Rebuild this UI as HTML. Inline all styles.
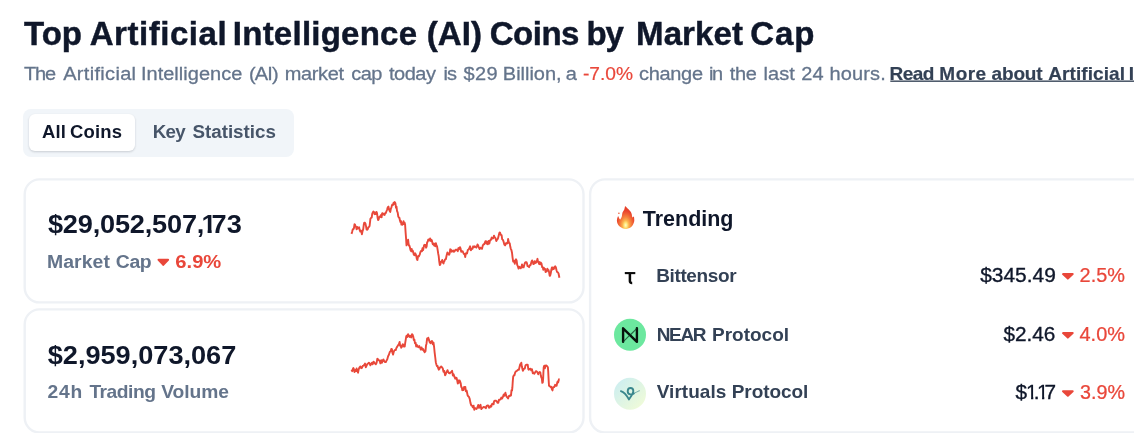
<!DOCTYPE html>
<html><head><meta charset="utf-8">
<style>
html,body{margin:0;padding:0;background:#fff;}
body{width:1134px;height:433px;position:relative;overflow:hidden;font-family:"Liberation Sans",sans-serif;color:#0f172a;}
.t{position:absolute;white-space:nowrap;line-height:1;}
.box{position:absolute;box-sizing:border-box;}
.card{position:absolute;border:2px solid #eff2f5;border-radius:12px;box-sizing:border-box;background:#fff;}
svg{position:absolute;left:0;top:0;}
</style></head><body>
<div id="root" style="position:absolute;left:0;top:0;width:1134px;height:433px;opacity:0.999;">
<div class="box" style="left:23px;top:109px;width:271px;height:48px;background:#f1f5f9;border-radius:8px;"></div>
<div class="box" style="left:29px;top:114px;width:106px;height:37px;background:#fff;border-radius:6px;box-shadow:0 1px 2px rgba(15,23,42,.10),0 1px 3px rgba(15,23,42,.08);"></div>
<div class="t" id="title_0" style="left:24.07px;top:16.7px;font-size:33.03px;font-weight:bold;color:#0f172a;transform:scaleY(1.003);transform-origin:0 28px;-webkit-text-stroke:0.45px #0f172a;letter-spacing:-0.149px;">Top</div>
<div class="t" id="title_1" style="left:89.74px;top:16.7px;font-size:33.03px;font-weight:bold;color:#0f172a;transform:scaleY(1.003);transform-origin:0 28px;-webkit-text-stroke:0.45px #0f172a;letter-spacing:0.528px;">Artificial</div>
<div class="t" id="title_2" style="left:232.82px;top:16.7px;font-size:33.03px;font-weight:bold;color:#0f172a;transform:scaleY(1.003);transform-origin:0 28px;-webkit-text-stroke:0.45px #0f172a;letter-spacing:0.239px;">Intelligence</div>
<div class="t" id="title_3" style="left:426.78px;top:16.7px;font-size:33.03px;font-weight:bold;color:#0f172a;transform:scaleY(1.003);transform-origin:0 28px;-webkit-text-stroke:0.45px #0f172a;letter-spacing:0.038px;">(AI)</div>
<div class="t" id="title_4" style="left:489.78px;top:16.7px;font-size:33.03px;font-weight:bold;color:#0f172a;transform:scaleY(1.003);transform-origin:0 28px;-webkit-text-stroke:0.45px #0f172a;letter-spacing:-0.509px;">Coins</div>
<div class="t" id="title_5" style="left:586.62px;top:16.7px;font-size:33.03px;font-weight:bold;color:#0f172a;transform:scaleY(1.003);transform-origin:0 28px;-webkit-text-stroke:0.45px #0f172a;letter-spacing:-1.291px;">by</div>
<div class="t" id="title_6" style="left:636.02px;top:16.7px;font-size:33.03px;font-weight:bold;color:#0f172a;transform:scaleY(1.003);transform-origin:0 28px;-webkit-text-stroke:0.45px #0f172a;letter-spacing:0.121px;">Market</div>
<div class="t" id="title_7" style="left:750.28px;top:16.7px;font-size:33.03px;font-weight:bold;color:#0f172a;transform:scaleY(1.003);transform-origin:0 28px;-webkit-text-stroke:0.45px #0f172a;letter-spacing:0.886px;">Cap</div>
<div class="t" id="sub_0" style="left:24.0px;top:62.8px;font-size:20.0px;font-weight:normal;color:#64748b;transform:scaleY(0.964);transform-origin:0 17px;-webkit-text-stroke:0.3px #64748b;letter-spacing:-1.220px;">The</div>
<div class="t" id="sub_1" style="left:63.2px;top:62.8px;font-size:20.0px;font-weight:normal;color:#64748b;transform:scaleY(0.964);transform-origin:0 17px;-webkit-text-stroke:0.3px #64748b;letter-spacing:0.315px;">Artificial</div>
<div class="t" id="sub_2" style="left:140.9px;top:62.8px;font-size:20.0px;font-weight:normal;color:#64748b;transform:scaleY(0.964);transform-origin:0 17px;-webkit-text-stroke:0.3px #64748b;letter-spacing:0.031px;">Intelligence</div>
<div class="t" id="sub_3" style="left:248.9px;top:62.8px;font-size:20.0px;font-weight:normal;color:#64748b;transform:scaleY(0.964);transform-origin:0 17px;-webkit-text-stroke:0.3px #64748b;letter-spacing:-0.819px;">(AI)</div>
<div class="t" id="sub_4" style="left:284.8px;top:62.8px;font-size:20.0px;font-weight:normal;color:#64748b;transform:scaleY(0.964);transform-origin:0 17px;-webkit-text-stroke:0.3px #64748b;letter-spacing:-0.373px;">market</div>
<div class="t" id="sub_5" style="left:351.2px;top:62.8px;font-size:20.0px;font-weight:normal;color:#64748b;transform:scaleY(0.964);transform-origin:0 17px;-webkit-text-stroke:0.3px #64748b;letter-spacing:-0.562px;">cap</div>
<div class="t" id="sub_6" style="left:389.1px;top:62.8px;font-size:20.0px;font-weight:normal;color:#64748b;transform:scaleY(0.964);transform-origin:0 17px;-webkit-text-stroke:0.3px #64748b;letter-spacing:-0.531px;">today</div>
<div class="t" id="sub_7" style="left:443.4px;top:62.8px;font-size:20.0px;font-weight:normal;color:#64748b;transform:scaleY(0.964);transform-origin:0 17px;-webkit-text-stroke:0.3px #64748b;letter-spacing:-0.843px;">is</div>
<div class="t" id="sub_8" style="left:463.6px;top:62.8px;font-size:20.0px;font-weight:normal;color:#64748b;transform:scaleY(0.964);transform-origin:0 17px;-webkit-text-stroke:0.3px #64748b;letter-spacing:0.327px;">$29</div>
<div class="t" id="sub_9" style="left:502.8px;top:62.8px;font-size:20.0px;font-weight:normal;color:#64748b;transform:scaleY(0.964);transform-origin:0 17px;-webkit-text-stroke:0.3px #64748b;letter-spacing:-0.008px;">Billion,</div>
<div class="t" id="sub_10" style="left:565.85px;top:62.8px;font-size:20.0px;font-weight:normal;color:#64748b;transform:scaleY(0.964);transform-origin:0 17px;-webkit-text-stroke:0.3px #64748b;letter-spacing:0.000px;">a</div>
<div class="t" id="sub_11" style="left:639.1px;top:62.8px;font-size:20.0px;font-weight:normal;color:#64748b;transform:scaleY(0.964);transform-origin:0 17px;-webkit-text-stroke:0.3px #64748b;letter-spacing:-0.338px;">change</div>
<div class="t" id="sub_12" style="left:709.0px;top:62.8px;font-size:20.0px;font-weight:normal;color:#64748b;transform:scaleY(0.964);transform-origin:0 17px;-webkit-text-stroke:0.3px #64748b;letter-spacing:-1.343px;">in</div>
<div class="t" id="sub_13" style="left:729.8px;top:62.8px;font-size:20.0px;font-weight:normal;color:#64748b;transform:scaleY(0.964);transform-origin:0 17px;-webkit-text-stroke:0.3px #64748b;letter-spacing:-0.340px;">the</div>
<div class="t" id="sub_14" style="left:763.5px;top:62.8px;font-size:20.0px;font-weight:normal;color:#64748b;transform:scaleY(0.964);transform-origin:0 17px;-webkit-text-stroke:0.3px #64748b;letter-spacing:0.045px;">last</div>
<div class="t" id="sub_15" style="left:801.2px;top:62.8px;font-size:20.0px;font-weight:normal;color:#64748b;transform:scaleY(0.964);transform-origin:0 17px;-webkit-text-stroke:0.3px #64748b;letter-spacing:0.277px;">24</div>
<div class="t" id="sub_16" style="left:829.4px;top:62.8px;font-size:20.0px;font-weight:normal;color:#64748b;transform:scaleY(0.964);transform-origin:0 17px;-webkit-text-stroke:0.3px #64748b;letter-spacing:0.174px;">hours.</div>
<div class="t" id="sub2" style="left:582.93px;top:63.8px;font-size:19.19px;font-weight:normal;color:#e9473a;transform:scaleY(0.99);transform-origin:0 16px;-webkit-text-stroke:0.2px #e9473a;">-7.0%</div>
<div class="t" id="link_0" style="left:889.46px;top:63.7px;font-size:19.01px;font-weight:bold;color:#334155;transform:scaleY(1.006);transform-origin:0 16px;-webkit-text-stroke:0.2px #334155;letter-spacing:-0.496px;">Read</div>
<div class="t" id="link_1" style="left:939.36px;top:63.7px;font-size:19.01px;font-weight:bold;color:#334155;transform:scaleY(1.006);transform-origin:0 16px;-webkit-text-stroke:0.2px #334155;letter-spacing:0.473px;">More</div>
<div class="t" id="link_2" style="left:991.62px;top:63.7px;font-size:19.01px;font-weight:bold;color:#334155;transform:scaleY(1.006);transform-origin:0 16px;-webkit-text-stroke:0.2px #334155;letter-spacing:-0.200px;">about</div>
<div class="t" id="link_3" style="left:1048.22px;top:63.7px;font-size:19.01px;font-weight:bold;color:#334155;transform:scaleY(1.006);transform-origin:0 16px;-webkit-text-stroke:0.2px #334155;letter-spacing:0.079px;">Artificial</div>
<div class="t" id="link_t" style="left:1128.86px;top:63.7px;font-size:19.01px;font-weight:bold;color:#334155;transform:scaleY(1.006);transform-origin:0 16px;-webkit-text-stroke:0.2px #334155;">Intelligence (AI)</div>
<div class="t" id="t1_0" style="left:41.93px;top:122.8px;font-size:18.47px;font-weight:bold;color:#0f172a;transform:scaleY(1.036);transform-origin:0 15px;letter-spacing:0.160px;">All</div>
<div class="t" id="t1_1" style="left:70.06px;top:122.8px;font-size:18.47px;font-weight:bold;color:#0f172a;transform:scaleY(1.036);transform-origin:0 15px;letter-spacing:0.150px;">Coins</div>
<div class="t" id="t2_0" style="left:152.67px;top:122.8px;font-size:18.79px;font-weight:bold;color:#475569;transform:scaleY(1.019);transform-origin:0 15px;letter-spacing:-0.657px;">Key</div>
<div class="t" id="t2_1" style="left:192.52px;top:122.8px;font-size:18.79px;font-weight:bold;color:#475569;transform:scaleY(1.019);transform-origin:0 15px;letter-spacing:-0.021px;">Statistics</div>
<div class="t" id="b1_0" style="left:47.93px;top:209.9px;font-size:27.14px;font-weight:bold;color:#0f172a;transform:scaleY(0.916);transform-origin:0 23px;letter-spacing:-0.175px;">$29,052,507,</div>
<div class="t" id="b1_1" style="left:201.5px;top:209.9px;font-size:27.14px;font-weight:bold;color:#0f172a;transform:scaleY(0.916);transform-origin:0 23px;letter-spacing:0.000px;"><span style="display:inline-block;clip-path:polygon(0 0,10.18px 0,10.18px 100%,6.11px 100%,6.11px 19.61px,0 19.61px)">1</span></div>
<div class="t" id="b1_2" style="left:211.41px;top:209.9px;font-size:27.14px;font-weight:bold;color:#0f172a;transform:scaleY(0.916);transform-origin:0 23px;letter-spacing:0.379px;">73</div>
<div class="t" id="l1_0" style="left:47.04px;top:251.8px;font-size:19.41px;font-weight:bold;color:#64748b;transform:scaleY(0.979);transform-origin:0 16px;letter-spacing:0.050px;">Market</div>
<div class="t" id="l1_1" style="left:115.82px;top:251.8px;font-size:19.41px;font-weight:bold;color:#64748b;transform:scaleY(0.979);transform-origin:0 16px;letter-spacing:-0.400px;">Cap</div>
<div class="t" id="r1" style="left:175.29px;top:250.8px;font-size:20.22px;font-weight:bold;color:#e9473a;transform:scaleY(0.953);transform-origin:0 17px;">6.9%</div>
<div class="t" id="b2" style="left:47.73px;top:341.0px;font-size:27.14px;font-weight:bold;color:#0f172a;transform:scaleY(0.916);transform-origin:0 23px;">$2,959,073,067</div>
<div class="t" id="l2_0" style="left:47.42px;top:381.6px;font-size:19.26px;font-weight:bold;color:#64748b;transform:scaleY(0.987);transform-origin:0 16px;letter-spacing:0.831px;">24h</div>
<div class="t" id="l2_1" style="left:89.41px;top:381.6px;font-size:19.26px;font-weight:bold;color:#64748b;transform:scaleY(0.987);transform-origin:0 16px;letter-spacing:-0.498px;">Trading</div>
<div class="t" id="l2_2" style="left:161.3px;top:381.6px;font-size:19.26px;font-weight:bold;color:#64748b;transform:scaleY(0.987);transform-origin:0 16px;letter-spacing:-0.086px;">Volume</div>
<div class="t" id="trend" style="left:642.79px;top:208.5px;font-size:21.49px;font-weight:bold;color:#0f172a;transform:scaleY(1.004);transform-origin:0 17px;">Trending</div>
<div class="t" id="n1_0" style="left:656.16px;top:265.6px;font-size:19.0px;font-weight:bold;color:#334155;transform:scaleY(0.999);transform-origin:0 16px;letter-spacing:-0.360px;">Bittensor</div>
<div class="t" id="n2_0" style="left:656.66px;top:324.5px;font-size:19.0px;font-weight:bold;color:#334155;transform:scaleY(0.985);transform-origin:0 16px;letter-spacing:-1.322px;">NEAR</div>
<div class="t" id="n2_1" style="left:711.96px;top:324.5px;font-size:19.0px;font-weight:bold;color:#334155;transform:scaleY(0.985);transform-origin:0 16px;letter-spacing:0.010px;">Protocol</div>
<div class="t" id="n3_0" style="left:656.7px;top:382.4px;font-size:19.0px;font-weight:bold;color:#334155;transform:scaleY(0.999);transform-origin:0 16px;letter-spacing:0.048px;">Virtuals</div>
<div class="t" id="n3_1" style="left:731.66px;top:382.4px;font-size:19.0px;font-weight:bold;color:#334155;transform:scaleY(0.999);transform-origin:0 16px;letter-spacing:-0.047px;">Protocol</div>
<div class="t" id="pr1" style="left:980.19px;top:264.8px;font-size:20.94px;font-weight:normal;color:#0f172a;transform:scaleY(0.927);transform-origin:0 17px;-webkit-text-stroke:0.35px #0f172a;">$345.49</div>
<div class="t" id="pr2" style="left:1003.39px;top:323.7px;font-size:20.76px;font-weight:normal;color:#0f172a;transform:scaleY(0.935);transform-origin:0 17px;-webkit-text-stroke:0.35px #0f172a;">$2.46</div>
<div class="t" id="pr3_0" style="left:1015.38px;top:381.6px;font-size:20.8px;font-weight:normal;color:#0f172a;transform:scaleY(0.934);transform-origin:0 17px;-webkit-text-stroke:0.35px #0f172a;letter-spacing:0.000px;">$</div>
<div class="t" id="pr3_1" style="left:1026.08px;top:381.6px;font-size:20.8px;font-weight:normal;color:#0f172a;transform:scaleY(0.934);transform-origin:0 17px;-webkit-text-stroke:0.35px #0f172a;letter-spacing:0.000px;"><span style="display:inline-block;clip-path:polygon(0 0,7.18px 0,7.18px 100%,4.99px 100%,4.99px 14.82px,0 14.82px)">1</span></div>
<div class="t" id="pr3_2" style="left:1033.64px;top:381.6px;font-size:20.8px;font-weight:normal;color:#0f172a;transform:scaleY(0.934);transform-origin:0 17px;-webkit-text-stroke:0.35px #0f172a;letter-spacing:0.000px;">.</div>
<div class="t" id="pr3_3" style="left:1037.08px;top:381.6px;font-size:20.8px;font-weight:normal;color:#0f172a;transform:scaleY(0.934);transform-origin:0 17px;-webkit-text-stroke:0.35px #0f172a;letter-spacing:0.000px;"><span style="display:inline-block;clip-path:polygon(0 0,7.18px 0,7.18px 100%,4.99px 100%,4.99px 14.82px,0 14.82px)">1</span></div>
<div class="t" id="pr3_4" style="left:1044.48px;top:381.6px;font-size:20.8px;font-weight:normal;color:#0f172a;transform:scaleY(0.934);transform-origin:0 17px;-webkit-text-stroke:0.35px #0f172a;letter-spacing:0.000px;">7</div>
<div class="t" id="pc1" style="left:1079.6px;top:265.8px;font-size:19.91px;font-weight:normal;color:#e9473a;transform:scaleY(0.975);transform-origin:0 16px;-webkit-text-stroke:0.25px #e9473a;">2.5%</div>
<div class="t" id="pc2" style="left:1079.5px;top:324.7px;font-size:19.95px;font-weight:normal;color:#e9473a;transform:scaleY(0.973);transform-origin:0 16px;-webkit-text-stroke:0.25px #e9473a;">4.0%</div>
<div class="t" id="pc3" style="left:1080.01px;top:382.6px;font-size:19.73px;font-weight:normal;color:#e9473a;transform:scaleY(0.984);transform-origin:0 16px;-webkit-text-stroke:0.25px #e9473a;">3.9%</div>
<svg width="1134" height="433" viewBox="0 0 1134 433">
<g fill="none" stroke="#eef1f5" stroke-width="2.4">
<rect x="24.7" y="179.4" width="558.8" height="123" rx="14.8"/>
<rect x="24.7" y="309.4" width="558.8" height="123" rx="14.8"/>
<rect x="590.1" y="179.4" width="600" height="253" rx="14.8"/>
</g>
<rect x="890.3" y="80.5" width="260" height="1.35" fill="#334155"/>
<path d="M351.5 233.9 L352.2 231.6 L352.8 229.3 L353.4 229.3 L353.9 228.4 L354.5 224.3 L355.0 224.6 L355.6 226.3 L356.1 227.1 L356.6 229.3 L357.2 226.9 L357.9 228.5 L358.5 228.1 L359.1 227.2 L359.7 230.1 L360.3 231.6 L360.9 230.6 L361.4 231.6 L361.9 234.3 L362.6 230.8 L363.2 229.3 L363.8 224.6 L364.3 222.6 L364.9 222.7 L365.4 223.5 L366.0 226.1 L366.6 229.6 L367.3 229.7 L367.8 229.1 L368.3 227.4 L368.9 227.0 L369.6 226.0 L370.4 218.8 L371.2 217.7 L371.7 217.6 L372.3 213.4 L372.8 212.6 L373.4 211.6 L374.0 212.0 L374.6 214.2 L375.3 212.6 L375.9 214.1 L376.5 211.9 L377.0 213.2 L377.6 217.7 L378.1 220.0 L378.6 219.5 L379.2 217.2 L379.7 216.6 L380.3 217.0 L381.0 215.1 L381.6 217.3 L382.0 213.9 L382.3 213.2 L382.7 213.1 L383.3 214.5 L384.0 214.0 L384.6 214.9 L385.1 213.1 L385.7 213.3 L386.2 211.9 L387.0 210.0 L387.7 207.5 L388.5 206.6 L389.1 209.7 L389.7 211.0 L390.3 211.9 L390.9 208.5 L391.4 207.6 L392.0 205.0 L392.5 204.4 L393.0 205.1 L393.6 202.7 L394.2 203.9 L394.8 202.1 L395.4 203.2 L396.0 207.8 L396.5 206.6 L397.0 210.8 L397.7 212.7 L398.3 216.5 L398.9 217.7 L399.4 217.7 L400.0 220.7 L400.5 222.3 L401.0 221.1 L401.4 224.6 L401.9 224.6 L402.4 224.7 L403.0 222.7 L403.5 221.2 L404.0 224.0 L404.6 222.7 L405.1 224.6 L405.6 232.4 L406.1 238.9 L406.5 245.4 L407.1 243.9 L407.6 241.4 L408.1 239.7 L408.5 243.1 L408.9 245.5 L409.3 245.4 L409.9 247.2 L410.5 250.0 L411.1 251.2 L411.7 249.0 L412.2 251.6 L412.7 250.5 L413.3 252.2 L413.8 254.7 L414.4 253.5 L414.8 255.3 L415.3 253.3 L415.8 254.7 L416.3 255.9 L416.8 258.9 L417.4 260.0 L418.1 256.1 L418.9 256.3 L419.7 254.7 L420.4 252.0 L421.2 250.7 L422.0 251.2 L422.5 248.1 L423.1 250.1 L423.6 247.7 L424.1 245.2 L424.5 244.8 L425.0 245.0 L425.5 245.0 L426.1 247.7 L426.6 246.6 L427.1 242.4 L427.7 241.7 L428.2 239.7 L428.8 239.5 L429.5 240.6 L430.1 238.5 L430.5 240.3 L430.8 240.9 L431.2 239.7 L431.8 240.2 L432.3 242.4 L432.8 244.3 L433.5 243.4 L434.1 245.5 L434.7 243.6 L435.3 246.2 L435.9 243.3 L436.5 245.4 L437.1 246.7 L437.6 249.6 L438.2 253.5 L438.7 256.2 L439.2 261.1 L439.8 265.1 L440.4 264.3 L441.0 261.7 L441.6 261.6 L442.2 260.0 L442.8 262.5 L443.5 263.4 L444.0 261.5 L444.5 261.0 L445.1 259.3 L445.9 259.0 L446.6 255.5 L447.4 252.4 L447.9 253.2 L448.5 254.4 L449.0 254.7 L449.6 253.7 L450.2 249.3 L450.9 249.6 L451.6 251.7 L452.4 251.4 L453.2 250.5 L453.9 251.8 L454.7 251.2 L455.5 249.6 L456.2 249.6 L457.0 250.2 L457.8 251.2 L458.3 248.3 L458.9 249.5 L459.4 247.7 L460.0 247.2 L460.6 248.6 L461.2 251.9 L462.0 251.2 L462.8 251.5 L463.6 253.5 L464.1 254.0 L464.6 253.9 L465.2 257.0 L465.8 253.6 L466.4 253.1 L467.0 253.5 L467.8 250.0 L468.6 249.4 L469.3 248.2 L470.1 246.3 L470.9 250.3 L471.6 248.9 L472.4 248.9 L473.2 246.3 L473.9 247.3 L474.7 246.3 L475.5 246.9 L476.3 247.7 L476.9 246.4 L477.5 244.5 L478.1 245.4 L478.9 247.7 L479.6 249.1 L480.4 247.7 L481.0 248.0 L481.5 248.4 L482.0 248.9 L482.8 245.5 L483.6 244.1 L484.3 244.3 L484.9 242.6 L485.4 241.2 L486.0 241.3 L486.6 243.7 L487.2 241.8 L487.8 244.3 L488.6 240.9 L489.3 243.6 L490.1 240.3 L490.9 239.9 L491.7 237.6 L492.4 238.5 L493.2 238.3 L494.0 235.6 L494.7 237.3 L495.5 238.2 L496.3 241.0 L497.0 239.7 L497.8 238.9 L498.6 235.9 L499.4 232.7 L499.9 232.4 L500.4 233.7 L501.0 235.0 L501.6 235.1 L502.2 239.3 L502.8 239.7 L503.6 241.7 L504.4 244.7 L505.1 245.4 L505.7 244.1 L506.2 243.0 L506.7 243.6 L507.2 243.4 L507.7 242.6 L508.1 239.0 L508.7 241.9 L509.2 243.1 L509.7 243.1 L510.3 246.8 L510.8 248.8 L511.4 250.0 L512.0 252.7 L512.6 257.8 L513.2 261.6 L513.7 261.7 L514.3 261.1 L514.8 263.9 L515.2 260.3 L515.6 259.9 L516.0 259.3 L516.6 260.5 L517.2 264.8 L517.8 266.2 L518.6 268.6 L519.4 266.8 L520.1 267.4 L520.8 268.3 L521.4 267.5 L522.0 264.4 L522.5 267.4 L523.1 265.8 L523.6 267.4 L524.4 264.4 L525.1 262.6 L525.9 262.1 L526.5 262.1 L527.0 263.5 L527.5 266.2 L528.3 266.4 L529.1 267.2 L529.8 265.1 L530.6 265.0 L531.4 261.9 L532.1 260.4 L532.8 262.3 L533.4 264.1 L534.0 263.9 L534.6 261.3 L535.2 263.1 L535.8 261.6 L536.4 262.5 L536.9 261.0 L537.5 258.8 L538.0 261.6 L538.5 262.1 L539.1 263.9 L539.7 262.1 L540.3 264.4 L540.9 262.7 L541.5 263.6 L542.2 267.2 L542.8 267.4 L543.3 269.8 L543.8 267.7 L544.4 268.5 L545.0 268.9 L545.6 272.0 L546.2 270.8 L546.8 271.4 L547.3 268.6 L547.9 269.7 L548.5 270.1 L549.1 272.3 L549.7 275.9 L550.2 275.6 L550.8 273.1 L551.3 269.7 L551.9 267.4 L552.4 269.6 L552.9 267.4 L553.7 269.1 L554.5 267.3 L555.2 266.2 L555.9 267.5 L556.5 270.3 L557.1 272.0 L557.9 272.3 L558.6 273.7 L559.4 277.8" fill="none" stroke="#e8483a" stroke-width="1.9" stroke-linejoin="round"/>
<path d="M351.5 369.7 L352.2 371.2 L352.8 369.2 L353.4 368.0 L353.9 369.2 L354.5 372.1 L355.0 371.3 L355.6 370.1 L356.1 371.1 L356.6 368.5 L357.1 371.3 L357.6 370.0 L358.0 372.7 L358.6 369.8 L359.1 368.2 L359.6 367.3 L360.4 366.4 L361.2 368.2 L361.9 368.0 L362.7 366.0 L363.5 365.7 L364.2 365.0 L365.0 363.6 L365.8 367.3 L366.6 365.7 L367.3 364.1 L368.1 363.5 L368.9 362.7 L369.6 363.5 L370.4 365.3 L371.2 363.9 L371.9 362.8 L372.7 364.2 L373.5 361.6 L374.3 362.5 L375.0 363.6 L375.8 364.3 L376.6 362.8 L377.3 358.8 L378.1 359.3 L378.9 360.4 L379.6 360.6 L380.4 363.4 L381.2 360.2 L382.0 362.7 L382.7 360.4 L383.5 359.5 L384.3 361.4 L385.0 362.0 L385.8 362.1 L386.6 360.4 L387.3 359.3 L388.1 356.2 L388.9 354.7 L389.7 352.3 L390.2 351.4 L390.7 351.3 L391.3 348.9 L391.9 349.1 L392.5 353.0 L393.1 354.6 L393.7 352.0 L394.3 350.6 L395.0 350.0 L395.7 350.1 L396.5 347.7 L397.3 346.6 L398.0 345.3 L398.8 344.6 L399.6 341.9 L400.1 345.7 L400.7 345.5 L401.2 347.7 L401.7 347.1 L402.3 345.4 L402.8 344.2 L403.4 345.1 L404.0 346.6 L404.7 346.6 L405.2 342.9 L405.7 339.8 L406.3 336.2 L406.9 335.5 L407.5 336.9 L408.1 334.3 L408.9 335.7 L409.7 336.9 L410.4 335.7 L411.2 337.4 L412.0 334.2 L412.7 335.0 L413.3 336.8 L413.8 340.0 L414.4 339.6 L415.0 343.4 L415.6 342.7 L416.2 346.6 L417.0 345.1 L417.8 346.8 L418.5 347.3 L419.3 346.1 L420.1 347.7 L420.8 349.6 L421.6 347.5 L422.4 349.8 L423.1 348.9 L423.9 350.9 L424.7 352.2 L425.5 351.2 L426.0 345.4 L426.5 343.7 L427.1 338.5 L427.7 339.6 L428.3 337.7 L428.9 339.6 L429.7 342.1 L430.5 343.2 L431.2 341.9 L432.0 340.9 L432.8 344.4 L433.5 342.6 L434.1 347.0 L434.6 352.1 L435.2 357.0 L435.8 362.2 L436.4 364.6 L437.0 366.2 L437.6 365.9 L438.2 368.2 L438.8 369.7 L439.4 369.0 L439.9 367.4 L440.5 367.3 L441.2 366.4 L442.0 367.3 L442.8 368.5 L443.5 371.8 L444.3 371.0 L445.1 375.4 L445.6 374.5 L446.2 372.9 L446.7 372.0 L447.5 370.2 L448.2 372.0 L449.0 373.1 L449.8 373.3 L450.5 372.4 L451.3 372.0 L452.1 370.8 L452.9 375.6 L453.6 374.3 L454.4 376.7 L455.2 378.7 L455.9 377.7 L456.6 377.9 L457.2 380.6 L457.8 383.5 L458.4 380.5 L459.0 382.7 L459.6 380.5 L460.2 381.7 L460.7 383.2 L461.2 387.0 L461.8 387.4 L462.3 390.3 L462.9 389.3 L463.5 390.1 L464.1 387.0 L464.7 387.4 L465.3 386.9 L465.9 391.3 L466.6 390.4 L467.1 392.7 L467.6 395.2 L468.2 396.2 L468.9 396.7 L469.7 398.9 L470.5 403.1 L471.3 405.4 L472.0 405.6 L472.8 407.3 L473.6 405.7 L474.3 409.8 L475.1 408.2 L475.9 408.5 L476.6 408.9 L477.4 407.3 L478.2 405.0 L479.0 407.9 L479.7 405.9 L480.5 404.8 L481.3 409.0 L482.0 408.2 L482.8 407.7 L483.6 406.9 L484.3 407.3 L485.1 407.1 L485.9 408.3 L486.7 405.9 L487.4 405.5 L488.2 405.5 L489.0 407.8 L489.7 407.5 L490.5 405.8 L491.3 406.6 L492.0 404.1 L492.8 403.6 L493.6 404.3 L494.1 401.2 L494.7 400.7 L495.2 400.8 L496.0 400.6 L496.7 401.2 L497.5 402.7 L498.3 402.8 L499.0 399.8 L499.8 399.7 L500.6 399.3 L501.4 397.5 L502.1 398.5 L502.9 396.9 L503.7 394.6 L504.4 395.8 L504.9 394.2 L505.4 392.7 L505.8 394.4 L506.6 396.8 L507.4 397.4 L508.1 398.5 L508.9 396.0 L509.7 396.1 L510.4 395.1 L511.0 395.4 L511.5 390.2 L512.1 390.4 L512.4 387.2 L512.8 380.9 L513.2 376.6 L513.8 375.3 L514.4 375.4 L515.1 372.7 L515.8 371.4 L516.6 371.1 L517.4 370.3 L518.1 369.8 L518.9 369.7 L519.7 366.2 L520.2 364.3 L520.8 365.3 L521.3 362.7 L521.8 366.3 L522.4 368.7 L522.9 370.8 L523.5 369.6 L524.1 368.6 L524.8 368.5 L525.5 365.4 L526.3 364.6 L527.1 365.0 L527.7 364.7 L528.3 369.2 L528.9 369.7 L529.7 368.8 L530.5 368.6 L531.2 370.3 L532.0 369.3 L532.8 373.4 L533.5 372.7 L534.3 373.8 L535.1 372.5 L535.8 371.3 L536.6 371.3 L537.4 372.1 L538.2 374.3 L538.7 372.6 L539.2 372.6 L539.8 372.0 L540.3 372.4 L540.8 375.6 L541.4 377.7 L541.8 378.2 L542.3 382.8 L542.8 382.4 L543.1 379.4 L543.4 372.6 L543.7 367.3 L544.3 365.7 L544.9 368.3 L545.5 365.7 L546.3 365.4 L547.1 366.2 L547.9 367.3 L548.2 371.3 L548.6 379.1 L549.0 385.8 L549.5 386.1 L550.1 386.6 L550.6 387.0 L551.2 386.8 L551.9 389.3 L552.5 390.4 L553.1 387.1 L553.7 387.1 L554.3 387.0 L555.1 384.8 L555.9 385.8 L556.6 385.8 L557.2 382.6 L557.7 381.4 L558.2 382.4 L558.6 380.6 L559.0 379.3 L559.4 379.6" fill="none" stroke="#e8483a" stroke-width="1.9" stroke-linejoin="round"/>
<path d="M158.5 259.8 L168.1 259.8 L163.3 264.9 Z" fill="#e9473a" stroke="#e9473a" stroke-width="2.0" stroke-linejoin="round"/>
<path d="M1063.0 274.1 L1072.7 274.1 L1067.85 278.6 Z" fill="#e9473a" stroke="#e9473a" stroke-width="2.0" stroke-linejoin="round"/>
<path d="M1063.0 333.1 L1072.7 333.1 L1067.85 337.6 Z" fill="#e9473a" stroke="#e9473a" stroke-width="2.0" stroke-linejoin="round"/>
<path d="M1063.0 391.2 L1072.7 391.2 L1067.85 395.7 Z" fill="#e9473a" stroke="#e9473a" stroke-width="2.0" stroke-linejoin="round"/>
<!-- NEAR -->
<circle cx="630" cy="334.75" r="16" fill="#6ce89f"/>
<path d="M623.1 341.8 V328.3 L636.9 341.8 V328.3" fill="none" stroke="#08130d" stroke-width="2.4" stroke-linejoin="round" stroke-linecap="round"/>
<path d="M623.1 341.8 L629.3 335.6 M636.9 328.3 L630.7 334.5" fill="none" stroke="#0d3a24" stroke-width="1.1" stroke-linecap="round" opacity="0.75"/>
<!-- Virtuals -->
<defs><linearGradient id="vg" x1="0.1" y1="0.1" x2="0.9" y2="0.9"><stop offset="0" stop-color="#cdeef0"/><stop offset="1" stop-color="#f0fbd8"/></linearGradient></defs>
<circle cx="630" cy="393.75" r="16" fill="url(#vg)"/>
<path d="M620.9 391.1 C624 392 626.8 395.5 628.9 399.4 C630.5 397 633.3 394 633.3 391.1 C633.3 388.9 631.9 388 630.5 388 C628.8 388 627.7 389.5 627.7 391.3 C627.7 393.2 629 394.4 630.5 394.4 C632 394.4 633 394 633.8 393.4" fill="none" stroke="#3a878d" stroke-width="1.9" stroke-linecap="round" stroke-linejoin="round"/>
<path d="M633.8 393.4 C635.5 392.7 637.3 391.7 638.6 391.1" fill="none" stroke="#3a878d" stroke-width="0.8" stroke-linecap="round" opacity="0.8"/>
<circle cx="639.3" cy="390.8" r="0.55" fill="#3a878d" opacity="0.8"/>
<!-- bittensor tau -->
<path d="M624.8 273.1 H635.3" fill="none" stroke="#0a0a0a" stroke-width="2.1"/><path d="M629.9 273 V281.2 Q629.9 283 632.2 282.9" fill="none" stroke="#0a0a0a" stroke-width="2.5"/>
<!-- flame -->
<defs>
<radialGradient id="fl" gradientUnits="userSpaceOnUse" cx="625.7" cy="225.2" r="9.3" gradientTransform="translate(0 225.2) scale(1 1.55) translate(0 -225.2)">
<stop offset="0" stop-color="#fffacc"/><stop offset="0.16" stop-color="#ffe77c"/><stop offset="0.34" stop-color="#fbb24c"/><stop offset="0.58" stop-color="#f5813d"/><stop offset="0.85" stop-color="#ee5631"/><stop offset="1" stop-color="#e8422c"/></radialGradient>
<filter id="fb" x="-20%" y="-20%" width="140%" height="140%"><feGaussianBlur stdDeviation="0.35"/></filter>
</defs>
<g filter="url(#fb)">
<path d="M625.10 206.10 C625.10 206.10 626.07 206.98 626.90 207.80 C627.73 208.62 629.32 210.02 630.10 211.00 C630.88 211.98 631.27 212.77 631.60 213.70 C631.93 214.63 631.90 215.95 632.10 216.60 C632.30 217.25 632.80 217.60 632.80 217.60 C632.80 217.60 633.90 216.30 633.90 216.30 C633.90 216.30 634.37 219.20 634.30 220.40 C634.23 221.60 634.02 222.38 633.50 223.50 C632.98 224.62 632.12 226.25 631.20 227.10 C630.28 227.95 628.92 228.30 628.00 228.60 C627.08 228.90 626.62 228.97 625.70 228.90 C624.78 228.83 623.55 228.63 622.50 228.20 C621.45 227.77 620.23 227.08 619.40 226.30 C618.57 225.52 617.92 224.48 617.50 223.50 C617.08 222.52 616.90 221.38 616.90 220.40 C616.90 219.42 617.28 218.35 617.50 217.60 C617.72 216.85 618.20 215.90 618.20 215.90 C618.20 215.90 618.95 217.82 619.30 218.40 C619.65 218.98 620.30 219.40 620.30 219.40 C620.30 219.40 621.43 217.65 621.80 216.50 C622.17 215.35 622.08 213.68 622.50 212.50 C622.92 211.32 623.87 210.47 624.30 209.40 C624.73 208.33 625.10 206.10 625.10 206.10Z" fill="url(#fl)"/>
<circle cx="618.9" cy="213.2" r="0.8" fill="#ee5631"/>
</g>
</svg>
</div>
</body></html>
